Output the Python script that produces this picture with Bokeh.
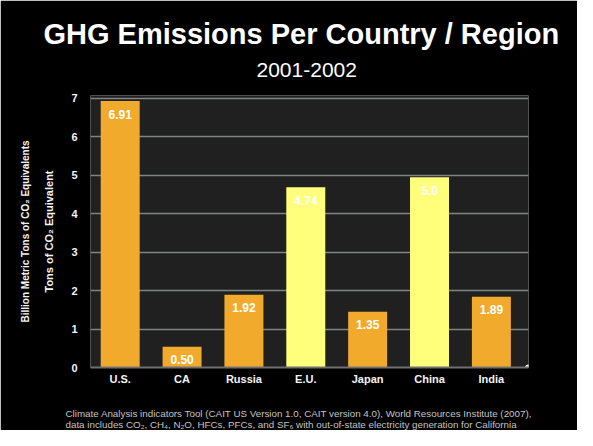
from bokeh.plotting import figure
from bokeh.models import Range1d, FixedTicker, ColumnDataSource, Title, LinearAxis
from bokeh.core.properties import value
from bokeh.embed import file_html
from bokeh.resources import INLINE

# ---- data ----
categories = ["U.S.", "CA", "Russia", "E.U.", "Japan", "China", "India"]
emissions = [6.92, 0.54, 1.89, 4.68, 1.45, 4.94, 1.84]
value_labels = ["6.91", "0.50", "1.92", "4.74", "1.35", "5.0", "1.89"]
bar_colors = ["#f2aa2c", "#f2aa2c", "#f2aa2c", "#ffff7c", "#f2aa2c", "#ffff7c", "#f2aa2c"]
y_ticks = [0, 1, 2, 3, 4, 5, 6, 7]

title_text = "GHG Emissions Per Country / Region"
subtitle_text = "2001-2002"
ylabel_outer = "Billion Metric Tons of CO\u2082 Equivalents"
ylabel_inner = "Tons of CO\u2082 Equivalent"
footer_lines = [
    "Climate Analysis indicators Tool (CAIT US Version 1.0, CAIT version 4.0), World Resources Institute (2007),",
    "data includes CO\u2082, CH\u2084, N\u2082O, HFCs, PFCs, and SF\u2086 with out-of-state electricity generation for California",
]

FONT = "Liberation Sans"
W, H = 577, 430
LEFT, RIGHT, TOP, BOTTOM = 90, 49, 95, 63
x_start, x_end = -0.48, 6.6

p = figure(width=W, height=H, output_backend="svg", toolbar_location=None,
           x_range=Range1d(x_start, x_end), y_range=Range1d(0, 7.065),
           min_border_left=LEFT, min_border_right=RIGHT,
           min_border_top=TOP, min_border_bottom=BOTTOM, title=None)
p.background_fill_color = "#202020"
p.border_fill_color = "#000000"
p.outline_line_color = None

src = ColumnDataSource(dict(
    x=list(range(len(categories))),
    top=emissions,
    label=value_labels,
    color=bar_colors,
))

p.vbar(x="x", top="top", width=0.63, source=src, fill_color="color", line_color=None)
p.text(x="x", y="top", text="label", source=src, text_align="center",
       text_baseline="middle", y_offset=13, text_color="#ffffff",
       text_font=value(FONT), text_font_style="bold", text_font_size="12px")

p.scatter([x_end - 0.01], [0], size=5, color="#ffffff")

# axes
p.xaxis.ticker = FixedTicker(ticks=list(range(len(categories))))
p.xaxis.major_label_overrides = {i: c for i, c in enumerate(categories)}
p.xaxis.axis_line_color = "#707070"
p.xaxis.axis_line_width = 2
p.xaxis.major_tick_line_color = None
p.xaxis.minor_tick_line_color = None
p.xaxis.major_tick_out = 0
p.xaxis.minor_tick_out = 0
p.xaxis.major_label_standoff = 5
p.xaxis.major_label_text_color = "#f4f4f4"
p.xaxis.major_label_text_font = FONT
p.xaxis.major_label_text_font_style = "bold"
p.xaxis.major_label_text_font_size = "11px"

yax = p.yaxis[0]
yax.ticker = FixedTicker(ticks=y_ticks)
yax.axis_line_color = None
yax.major_tick_line_color = None
yax.minor_tick_line_color = None
yax.major_tick_out = 0
yax.minor_tick_out = 0
yax.major_label_standoff = 13
yax.major_label_text_color = "#f4f4f4"
yax.major_label_text_font = FONT
yax.major_label_text_font_style = "bold"
yax.major_label_text_font_size = "11px"
yax.axis_label = ylabel_inner
yax.axis_label_standoff = 13
yax.axis_label_text_color = "#f4f4f4"
yax.axis_label_text_font = FONT
yax.axis_label_text_font_style = "bold"
yax.axis_label_text_font_size = "11px"

outer = LinearAxis(ticker=FixedTicker(ticks=[]), axis_label=ylabel_outer,
                   axis_line_color=None, major_tick_line_color=None,
                   minor_tick_line_color=None, major_label_standoff=0,
                   axis_label_standoff=10, axis_label_text_color="#f4f4f4",
                   axis_label_text_font=FONT, axis_label_text_font_style="bold",
                   axis_label_text_font_size="10px")
p.add_layout(outer, "left")

p.xgrid.visible = False
p.ygrid.ticker = FixedTicker(ticks=y_ticks[1:])
p.ygrid.grid_line_color = "#7e8585"
p.ygrid.grid_line_width = 1.3

# titles (first added sits closest to the plot)
p.add_layout(Title(text=" ", text_font_size="1px", standoff=8), "above")
p.add_layout(Title(text=subtitle_text, align="left", offset=166, text_font=FONT,
                   text_font_size="21px", text_font_style="normal",
                   text_color="#ffffff", standoff=15), "above")
p.add_layout(Title(text=title_text, align="left", offset=-47, text_font=FONT,
                   text_font_size="29px", text_font_style="bold",
                   text_color="#ffffff", standoff=8), "above")

# footer (spacer, then two lines in one text block)
p.add_layout(Title(text=" ", text_font_size="1px", standoff=15), "below")
p.add_layout(Title(text="\n".join(footer_lines), align="left", offset=-25, text_font=FONT,
                   text_font_size="9.8px", text_font_style="normal",
                   text_color="#c4c4c4", standoff=0), "below")

open("out.html", "w").write(file_html(p, INLINE))
